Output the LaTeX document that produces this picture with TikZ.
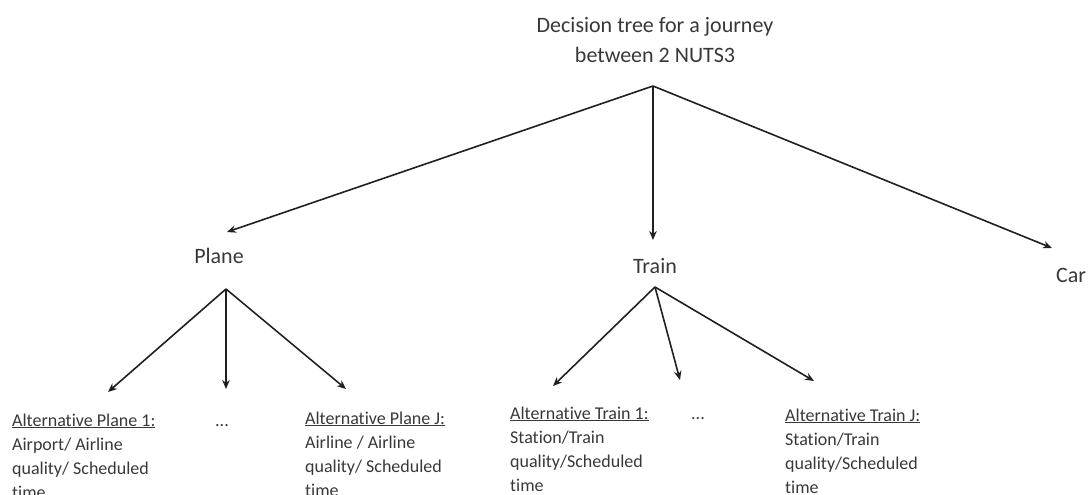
\documentclass[tikz,border=0pt]{standalone}
\usepackage{fontspec}
\setmainfont{Carlito}[Ligatures=NoCommon]
\usetikzlibrary{arrows.meta}
\definecolor{txt}{HTML}{383838}
\definecolor{ln}{HTML}{202020}
\begin{document}
\begin{tikzpicture}[x=1pt,y=-1pt,
  lbl/.style={text=txt,inner sep=0pt,font=\fontsize{22}{28}\selectfont},
  alt/.style={text=txt,inner sep=0pt,anchor=base west,align=left,font=\fontsize{18}{24}\selectfont},
  conn/.style={draw=ln,line width=1.6pt,-{Stealth[length=9pt,width=7.5pt]}}]
\useasboundingbox (0,0) rectangle (1088,495);
\clip (0,0) rectangle (1088,495);
% title
\node[lbl,anchor=base] (t1) at (655,33) {Decision tree for a journey};
\node[lbl,anchor=base] (t2) at (655,63) {between 2 NUTS3};
\coordinate (root) at (653,86);
% level 1
\node[lbl,anchor=base] (plane) at (219,263) {Plane};
\node[lbl,anchor=base] (train) at (655,273) {Train};
\node[lbl,anchor=base] (car) at (1071,282) {Car};
\coordinate (tp) at (227,232);
\coordinate (tt) at (653,240);
\coordinate (tc) at (1052,248);
\draw[conn] (root) -- (tp);
\draw[conn] (root) -- (tt);
\draw[conn] (root) -- (tc);
% plane branch
\coordinate (pb) at (226,289);
\coordinate (p1) at (108,392);
\coordinate (p2) at (226,389);
\coordinate (p3) at (346,389);
\draw[conn] (pb) -- (p1);
\draw[conn] (pb) -- (p2);
\draw[conn] (pb) -- (p3);
% train branch
\coordinate (tb) at (655,287);
\coordinate (r1) at (553,386);
\coordinate (r2) at (680,380);
\coordinate (r3) at (814,381);
\draw[conn] (tb) -- (r1);
\draw[conn] (tb) -- (r2);
\draw[conn] (tb) -- (r3);
% leaves (anchor = baseline of the last line; first line is 72pt higher)
\node[alt] (ap1) at (12,498) {\underline{Alternative Plane 1:}\\Airport/ Airline\\quality/ Scheduled\\time};
\node[lbl,anchor=base,font=\fontsize{18}{24}\selectfont] (apd) at (222,426) {...};
\node[alt] (apj) at (305,496) {\underline{Alternative Plane J:}\\Airline / Airline\\quality/ Scheduled\\time};
\node[alt] (at1) at (510,491) {\underline{Alternative Train 1:}\\Station/Train\\quality/Scheduled\\time};
\node[lbl,anchor=base,font=\fontsize{18}{24}\selectfont] (atd) at (698,419) {...};
\node[alt] (atj) at (785,493) {\underline{Alternative Train J:}\\Station/Train\\quality/Scheduled\\time};
\end{tikzpicture}
\end{document}
